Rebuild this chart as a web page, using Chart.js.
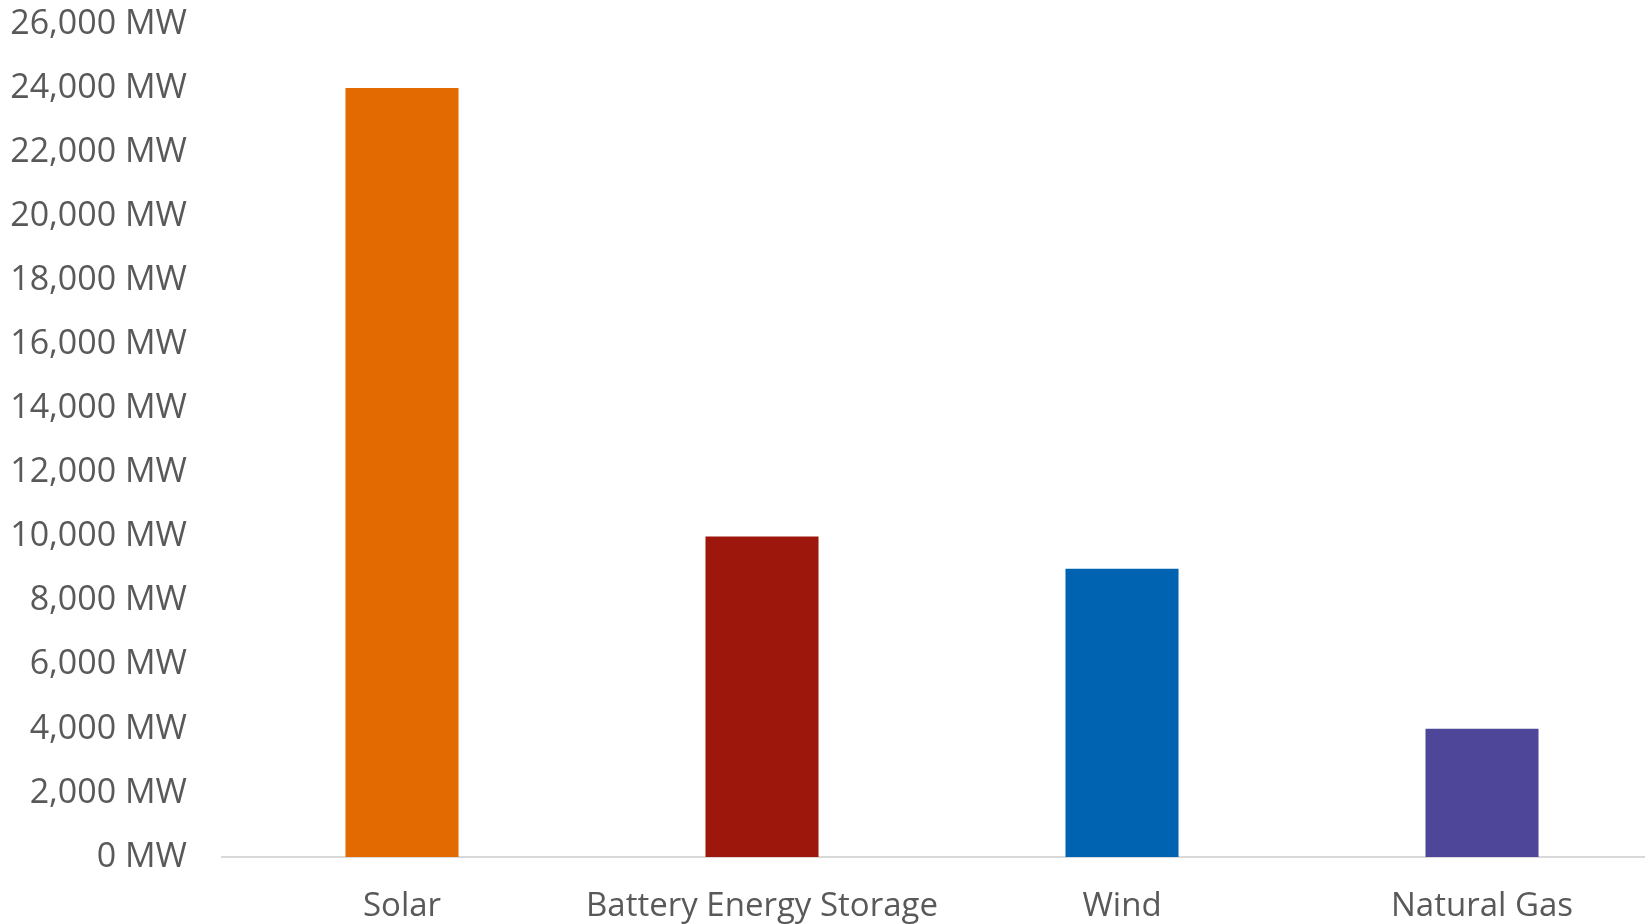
<!DOCTYPE html>
<html>
<head>
<meta charset="utf-8">
<script src="https://cdn.jsdelivr.net/npm/chart.js@4/dist/chart.umd.min.js"></script>
<style>
  html, body { margin: 0; padding: 0; background: #fff; overflow: hidden; }
  #wrap { width: 1662px; height: 924px; }
</style>
</head>
<body>
<div id="wrap"><canvas id="capacity" width="1662" height="924"></canvas></div>
<script>
const categories = ['Solar', 'Battery Energy Storage', 'Wind', 'Natural Gas'];
const capacityMW = [24000, 10000, 9000, 4000];
const barColors = ['#e36a00', '#9d170d', '#0063b2', '#4e4799'];
const yTicks = [0, 2000, 4000, 6000, 8000, 10000, 12000, 14000, 16000, 18000, 20000, 22000, 24000, 26000];

const yFont = { family: '"Open Sans", sans-serif', size: 34, lineHeight: 1.2 };
const xFont = { family: '"Open Sans", sans-serif', size: 33, lineHeight: 1.2 };
const labelColor = '#595959';

new Chart(document.getElementById('capacity'), {
    type: 'bar',
    data: {
        labels: categories,
        datasets: [{
            data: capacityMW,
            backgroundColor: barColors,
            categoryPercentage: 1,
            barPercentage: 0.314
        }]
    },
    options: {
        responsive: false,
        animation: false,
        layout: { padding: { top: 24, right: 0, bottom: 0, left: 0 } },
        plugins: { legend: { display: false }, tooltip: { enabled: false } },
        scales: {
            x: {
                grid: { display: false, drawTicks: false },
                border: { display: true, color: '#d9d9d9', width: 2 },
                ticks: { color: labelColor, font: xFont, padding: 30, maxRotation: 0, autoSkip: false },
                afterFit: scale => {
                    scale.height = 67;
                    scale.paddingLeft = 0;
                    scale.paddingRight = 0;
                }
            },
            y: {
                min: 0,
                max: yTicks[yTicks.length - 1],
                grid: { display: false, drawTicks: false },
                border: { display: false },
                afterBuildTicks: scale => { scale.ticks = yTicks.map(v => ({ value: v })); },
                ticks: {
                    color: labelColor,
                    font: yFont,
                    padding: 35,
                    callback: v => v.toLocaleString('en-US') + ' MW'
                },
                afterFit: scale => {
                    scale.width = 222;
                    scale.paddingTop = 0;
                    scale.paddingBottom = 0;
                }
            }
        }
    }
});
</script>
</body>
</html>
